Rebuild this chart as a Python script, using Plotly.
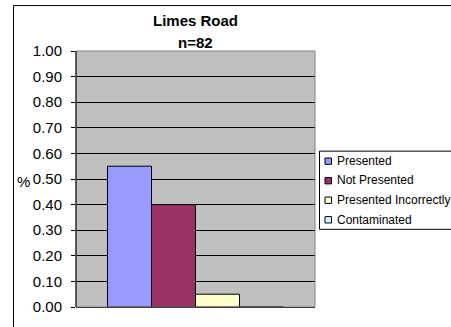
import plotly.graph_objects as go

# Chart data
categories = ["Limes Road"]
series_names = ["Presented", "Not Presented", "Presented Incorrectly", "Contaminated"]
series_values = [[0.55], [0.40], [0.05], [0.00]]
series_colors = ["#9999FF", "#993366", "#FFFFCC", "#CCFFFF"]
tick_values = [0.0, 0.1, 0.2, 0.3, 0.4, 0.5, 0.6, 0.7, 0.8, 0.9, 1.0]
title_lines = ["Limes Road", "n=82"]
y_title = "%"

W, H = 451, 327
L, R, T, B = 76, 315, 51, 313  # plot area in pixels
FONT = "Arial, Liberation Sans, sans-serif"


def px_x(px):
    return (px - L) / (R - L)


def px_y(py):
    return (B - py) / (B - T)


fig = go.Figure()
for name, vals, col in zip(series_names, series_values, series_colors):
    fig.add_trace(go.Bar(
        x=categories, y=vals, name=name,
        marker=dict(color=col, line=dict(color="#000000", width=1)),
        showlegend=False,
    ))

shapes = []
annotations = []

# outer chart frame
shapes.append(dict(type="rect", xref="paper", yref="paper",
                   x0=px_x(13.5), x1=px_x(W + 20), y0=px_y(H + 20), y1=px_y(4.5),
                   line=dict(color="#000000", width=1), fillcolor="rgba(0,0,0,0)",
                   layer="below"))
# plot area border (grey)
shapes.append(dict(type="rect", xref="paper", yref="paper",
                   x0=0, x1=1, y0=0, y1=1,
                   line=dict(color="#808080", width=1), fillcolor="rgba(0,0,0,0)",
                   layer="above"))
# left axis line
shapes.append(dict(type="line", xref="paper", yref="paper",
                   x0=0, x1=0, y0=0, y1=1,
                   line=dict(color="#000000", width=1), layer="above"))

# legend box
leg_left, leg_top, leg_bottom = 319.5, 153.5, 233.5
shapes.append(dict(type="rect", xref="paper", yref="paper",
                   x0=px_x(leg_left), x1=px_x(W + 20), y0=px_y(leg_bottom), y1=px_y(leg_top),
                   line=dict(color="#000000", width=1), fillcolor="#FFFFFF",
                   layer="above"))
for i, (name, col) in enumerate(zip(series_names, series_colors)):
    cy = 163.5 + 20 * i
    shapes.append(dict(type="rect", xref="paper", yref="paper",
                       x0=px_x(325), x1=px_x(331.5), y0=px_y(cy + 3.5), y1=px_y(cy - 3),
                       line=dict(color="#000000", width=1), fillcolor=col, layer="above"))
    annotations.append(dict(xref="paper", yref="paper", x=px_x(335), y=px_y(cy),
                            text=name, showarrow=False, xanchor="left", yanchor="middle",
                            font=dict(family=FONT, size=12, color="#000000")))

# title
for txt, cy in zip(title_lines, [20, 42.5]):
    annotations.append(dict(xref="paper", yref="paper", x=px_x(195.5), y=px_y(cy),
                            text="<b>" + txt + "</b>", showarrow=False,
                            xanchor="center", yanchor="middle",
                            font=dict(family=FONT, size=15, color="#000000")))

# y-axis title
annotations.append(dict(xref="paper", yref="paper", x=px_x(23), y=px_y(184.5),
                        text=y_title, showarrow=False, xanchor="center", yanchor="middle",
                        font=dict(family=FONT, size=15, color="#000000")))

fig.update_layout(
    width=W, height=H,
    margin=dict(l=L, r=W - R, t=T, b=H - B, pad=0),
    paper_bgcolor="#FFFFFF",
    plot_bgcolor="#C0C0C0",
    barmode="group",
    bargap=0.264,
    bargroupgap=0,
    showlegend=False,
    shapes=shapes,
    annotations=annotations,
    font=dict(family=FONT, color="#000000"),
)
fig.update_xaxes(showticklabels=False, showgrid=False, zeroline=False,
                 showline=False, ticks="")
fig.update_yaxes(range=[0, 1], tickvals=tick_values, tickformat=".2f",
                 showgrid=True, gridcolor="#000000", gridwidth=1,
                 zeroline=True, zerolinecolor="#000000", zerolinewidth=1,
                 ticks="outside", ticklen=4, tickcolor="#000000",
                 ticklabelstandoff=6,
                 tickfont=dict(family=FONT, size=15, color="#000000"),
                 showline=False)

fig.write_html("out.html")
